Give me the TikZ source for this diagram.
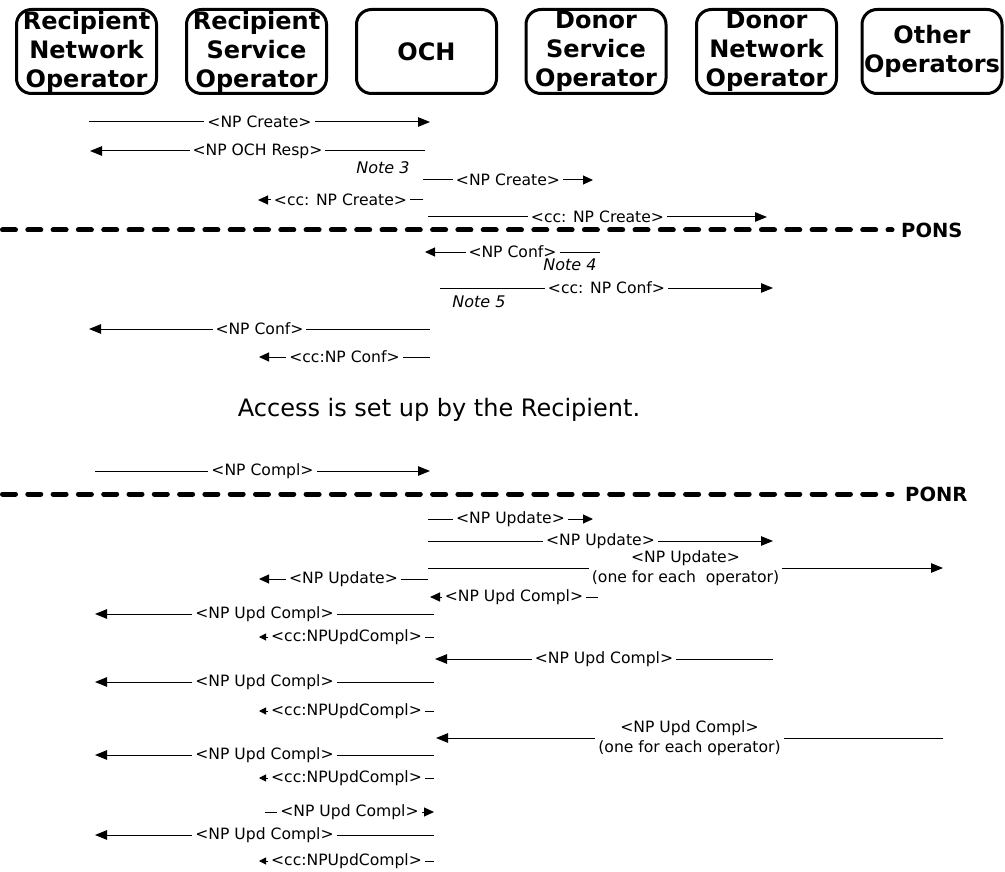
\documentclass[tikz,border=0pt]{standalone}
\usepackage{fontspec}
\setmainfont{DejaVu Sans}
\usetikzlibrary{arrows.meta}

\tikzset{
  hdr/.style={draw,line width=3pt,rounded corners=15pt,minimum width=140pt,minimum height=84pt,
              inner sep=0pt,align=center,font=\bfseries\fontsize{24}{29}\selectfont},
  msg/.style={line width=1pt,-{Triangle[length=12pt,width=9.5pt]}},
  shortmsg/.style={line width=1pt,-{Triangle[length=10pt,width=9pt]}},
  ccmsg/.style={line width=1pt,-{Triangle[length=7pt,width=7pt]}},
  lbl/.style={fill=white,inner xsep=3pt,inner ysep=1pt,align=center,font=\fontsize{15.6}{20}\selectfont},
  note/.style={inner sep=0pt,font=\itshape\fontsize{16}{18}\selectfont},
  ponline/.style={line width=5pt,line cap=round,dash pattern=on 13pt off 12.3pt},
  pontext/.style={anchor=west,inner sep=0pt,font=\bfseries\fontsize{19.5}{22}\selectfont}
}
\newcommand{\msgline}[5][msg]{%
  \coordinate (#2-a) at (#3);
  \coordinate (#2-b) at (#4);
  \draw[#1] (#2-a) -- (#2-b) node[lbl,midway] {#5}}

\begin{document}
\begin{tikzpicture}[x=1pt,y=-1pt]
  \useasboundingbox (0,0) rectangle (1005,872);

  % parties
  \node[hdr] (rno) at (86.5,51.5) {Recipient\\Network\\Operator};
  \node[hdr] (rso) at (256.5,51.5) {Recipient\\Service\\Operator};
  \node[hdr] (och) at (426.5,51.5) {OCH};
  \node[hdr] (dso) at (596,51.5) {Donor\\Service\\Operator};
  \node[hdr] (dno) at (766.5,51.5) {Donor\\Network\\Operator};
  \node[hdr] (oth) at (932,51.5) {Other\\Operators};

  % creation
  \msgline{crt}{89,122}{430,122}{<NP Create>};
  \msgline{resp}{425,151}{90,151}{<NP OCH Resp>};
  \node[note] (n3) at (383,168) {Note 3};
  \msgline[shortmsg]{crtd}{423,180}{593,180}{<NP Create>};
  \msgline[shortmsg]{cccrt}{423,200}{258,200}{<cc: NP Create>};
  \msgline{cccrtd}{428,217}{767,217}{<cc: NP Create>};

  \node[pontext] (pons) at (901,230) {PONS};
  \coordinate (pons-l) at (2.5,230);
  \draw[ponline] (pons-l) -- ([xshift=-9pt]pons.west);

  % confirmation
  \msgline[shortmsg]{conf}{600,252}{425,252}{<NP Conf>};
  \node[note] (n4) at (570,265) {Note 4};
  \msgline{ccconf}{440,288}{773,288}{<cc: NP Conf>};
  \node[note] (n5) at (479,302) {Note 5};
  \msgline{confr}{430,329}{89,329}{<NP Conf>};
  \msgline[shortmsg]{ccconfr}{430,357}{259,357}{<cc:NP Conf>};

  \node[font=\fontsize{24}{28}\selectfont] (acc) at (439,410) {Access is set up by the Recipient.};

  \msgline{compl}{95,471}{430,471}{<NP Compl>};

  \node[pontext] (ponr) at (905,494) {PONR};
  \coordinate (ponr-l) at (2.5,494);
  \draw[ponline] (ponr-l) -- ([xshift=-13pt]ponr.west);

  % update
  \msgline[shortmsg]{upd1}{428,519}{593,519}{<NP Update>};
  \msgline{upd2}{428,541}{773,541}{<NP Update>};
  \msgline{upd3}{428,568}{943,568}{<NP Update>\\(one for each\ \ operator)};
  \msgline[shortmsg]{upd4}{428,579}{259,579}{<NP Update>};

  % update completion
  \msgline[shortmsg]{uc1}{598,597}{430,597}{<NP Upd Compl>};
  \msgline{uc1r}{434,614}{95,614}{<NP Upd Compl>};
  \msgline[ccmsg]{cc1}{434,637}{259,637}{<cc:NPUpdCompl>};
  \msgline{uc2}{773,659}{435,659}{<NP Upd Compl>};
  \msgline{uc2r}{434,682}{95,682}{<NP Upd Compl>};
  \msgline[ccmsg]{cc2}{434,711}{259,711}{<cc:NPUpdCompl>};
  \msgline{uc3}{943,738}{436,738}{<NP Upd Compl>\\(one for each operator)};
  \msgline{uc3r}{434,755}{95,755}{<NP Upd Compl>};
  \msgline[ccmsg]{cc3}{434,778}{259,778}{<cc:NPUpdCompl>};
  \msgline[shortmsg]{uc4}{265,812}{434,812}{<NP Upd Compl>};
  \msgline{uc4r}{434,835}{95,835}{<NP Upd Compl>};
  \msgline[ccmsg]{cc4}{434,861}{259,861}{<cc:NPUpdCompl>};
\end{tikzpicture}
\end{document}
